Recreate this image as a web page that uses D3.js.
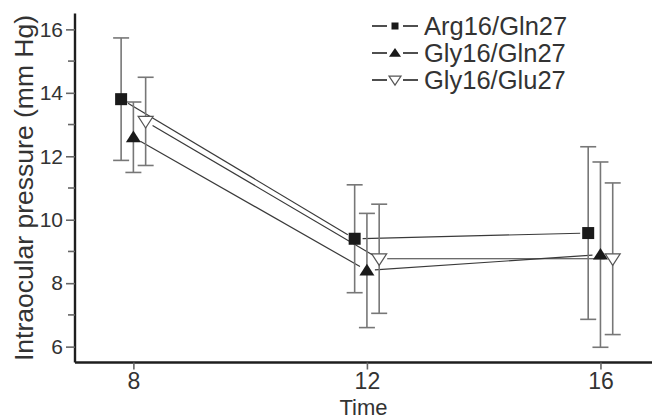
<!DOCTYPE html>
<html>
<head>
<meta charset="utf-8">
<script src="https://cdn.jsdelivr.net/npm/d3@7"></script>
<style>
  html, body { margin: 0; padding: 0; background: #fff; }
  svg { display: block; font-family: "Liberation Sans", Arial, Helvetica, sans-serif; }
</style>
</head>
<body>
<svg id="chart" width="652" height="420"></svg>
<script>
// ---- Data ----
const times = [8, 12, 16];
const seriesNames = ["Arg16/Gln27", "Gly16/Gln27", "Gly16/Glu27"];
const argGlnMean = [13.8, 9.4, 9.58];
const argGlnErr  = [1.93, 1.7, 2.72];
const glyGlnMean = [12.6, 8.4, 8.9];
const glyGlnErr  = [1.11, 1.8, 2.92];
const glyGluMean = [13.1, 8.77, 8.77];
const glyGluErr  = [1.39, 1.72, 2.39];
const xOffsets   = [-0.21, 0, 0.21];
const yTicks = [6, 8, 10, 12, 14, 16];
const yMinorTicks = [7, 9, 11, 13, 15];
const xTicks = [8, 12, 16];

const series = [
  { name: seriesNames[0], mean: argGlnMean, err: argGlnErr, symbol: "square" },
  { name: seriesNames[1], mean: glyGlnMean, err: glyGlnErr, symbol: "triUp" },
  { name: seriesNames[2], mean: glyGluMean, err: glyGluErr, symbol: "triDown" }
];

const svg = d3.select("#chart");
const x = d3.scaleLinear().domain([7, 16.9]).range([75, 653]);
const y = d3.scaleLinear().domain([5.5, 16.5]).range([362.5, 13.5]);

const axisColor = "#1e1e1e";
const tickColor = "#666";
const errColor = "#777";
const lineColor = "#3a3a3a";

// ---- Axes ----
const yAxis = svg.append("g").attr("transform", `translate(${x(7)},0)`)
  .call(d3.axisLeft(y).tickValues(yTicks).tickSize(9).tickPadding(3).tickFormat(d3.format("d")));
yAxis.select(".domain").attr("stroke", axisColor).attr("stroke-width", 2.4).attr("d", `M0,${y(16.5)}V${y(5.5)}`);
yAxis.selectAll(".tick line").attr("stroke", tickColor).attr("stroke-width", 1.6);
yAxis.selectAll(".tick text").attr("font-size", 21).attr("fill", "#333")
  .attr("font-family", "Liberation Sans, Arial, sans-serif");
yAxis.selectAll(".minor").data(yMinorTicks).enter().append("line")
  .attr("class", "minor")
  .attr("x1", -7).attr("x2", 0)
  .attr("y1", d => y(d)).attr("y2", d => y(d))
  .attr("stroke", tickColor).attr("stroke-width", 1.6);

const xAxis = svg.append("g").attr("transform", `translate(0,${y(5.5)})`)
  .call(d3.axisBottom(x).tickValues(xTicks).tickSize(7).tickPadding(3).tickFormat(d3.format("d")));
xAxis.select(".domain").attr("stroke", axisColor).attr("stroke-width", 2.4).attr("d", `M${x(7)},0H652`);
xAxis.selectAll(".tick line").attr("stroke", tickColor).attr("stroke-width", 1.6);
xAxis.selectAll(".tick text").attr("font-size", 23).attr("fill", "#333")
  .attr("font-family", "Liberation Sans, Arial, sans-serif");

// Axis titles
svg.append("text")
  .attr("transform", `translate(33,${(y(16.5) + y(5.5)) / 2}) rotate(-90)`)
  .attr("text-anchor", "middle")
  .attr("font-size", 26.5).attr("fill", "#333")
  .text("Intraocular pressure (mm Hg)");
svg.append("text")
  .attr("x", (x(7) + 652) / 2).attr("y", 414.5)
  .attr("text-anchor", "middle")
  .attr("font-size", 22).attr("fill", "#333")
  .text("Time");

// ---- Symbols ----
function drawSymbol(g, type, cx, cy, s) {
  if (type === "square") {
    g.append("rect").attr("x", cx - s / 2).attr("y", cy - s / 2).attr("width", s).attr("height", s)
      .attr("fill", "#1a1a1a");
  } else if (type === "triUp") {
    const h = s * 0.85;
    g.append("path").attr("d", `M${cx},${cy - h * 0.6}L${cx + s / 2 + 1},${cy + h * 0.45}L${cx - s / 2 - 1},${cy + h * 0.45}Z`)
      .attr("fill", "#1a1a1a");
  } else {
    const h = s * 0.85;
    g.append("path").attr("d", `M${cx},${cy + h * 0.6}L${cx + s / 2 + 1},${cy - h * 0.45}L${cx - s / 2 - 1},${cy - h * 0.45}Z`)
      .attr("fill", "#fff").attr("stroke", "#555").attr("stroke-width", 1.2);
  }
}

// ---- Lines (with gaps at markers) ----
const gap = 8;
const linesG = svg.append("g");
series.forEach((s, si) => {
  for (let i = 0; i < times.length - 1; i++) {
    const x1 = x(times[i] + xOffsets[si]), y1 = y(s.mean[i]);
    const x2 = x(times[i + 1] + xOffsets[si]), y2 = y(s.mean[i + 1]);
    const dx = x2 - x1, dy = y2 - y1, L = Math.hypot(dx, dy);
    const ux = dx / L, uy = dy / L;
    linesG.append("line")
      .attr("x1", x1 + ux * gap).attr("y1", y1 + uy * gap)
      .attr("x2", x2 - ux * gap).attr("y2", y2 - uy * gap)
      .attr("stroke", lineColor).attr("stroke-width", 1.2);
  }
});

// ---- Error bars ----
const errG = svg.append("g");
const capW = 8;
series.forEach((s, si) => {
  times.forEach((t, i) => {
    const cx = x(t + xOffsets[si]);
    const top = y(s.mean[i] + s.err[i]), bot = y(s.mean[i] - s.err[i]);
    errG.append("line").attr("x1", cx).attr("x2", cx).attr("y1", top).attr("y2", bot)
      .attr("stroke", errColor).attr("stroke-width", 1.6);
    [top, bot].forEach(yy => errG.append("line")
      .attr("x1", cx - capW).attr("x2", cx + capW).attr("y1", yy).attr("y2", yy)
      .attr("stroke", errColor).attr("stroke-width", 1.6));
  });
});

// ---- Markers ----
const markG = svg.append("g");
series.forEach((s, si) => {
  times.forEach((t, i) => {
    drawSymbol(markG, s.symbol, x(t + xOffsets[si]), y(s.mean[i]), s.symbol === "square" ? 12 : 13);
  });
});

// ---- Legend ----
const legRows = [26, 53, 80];
const legG = svg.append("g");
series.forEach((s, si) => {
  const cy = legRows[si];
  legG.append("line").attr("x1", 372).attr("x2", 387).attr("y1", cy).attr("y2", cy)
    .attr("stroke", "#222").attr("stroke-width", 1.6);
  legG.append("line").attr("x1", 403).attr("x2", 418).attr("y1", cy).attr("y2", cy)
    .attr("stroke", "#222").attr("stroke-width", 1.6);
  drawSymbol(legG, s.symbol, 395, cy, s.symbol === "square" ? 7 : 10);
  legG.append("text").attr("x", 424).attr("y", cy + 9)
    .attr("font-size", 25.5).attr("fill", "#333").text(s.name);
});
</script>
</body>
</html>
